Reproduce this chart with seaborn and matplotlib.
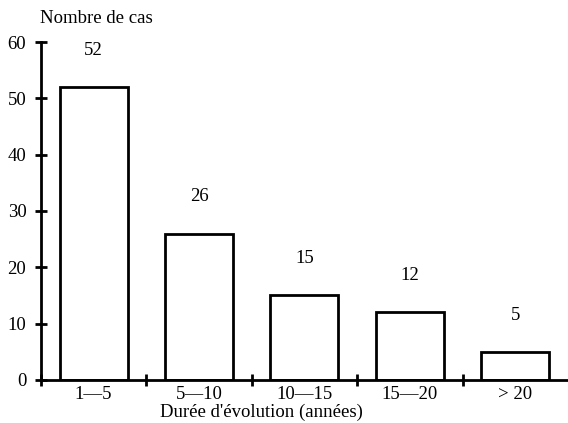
import matplotlib
matplotlib.use("Agg")
import matplotlib.pyplot as plt
import seaborn as sns
import pandas as pd

categories = ["1\u20145", "5\u201410", "10\u201415", "15\u201420", "> 20"]
counts = [52, 26, 15, 12, 5]

sns.set_style("white")
plt.rcParams['font.family'] = ['Liberation Serif', 'DejaVu Serif']
plt.rcParams['text.color'] = 'black'
plt.rcParams['xtick.color'] = 'black'
plt.rcParams['ytick.color'] = 'black'
plt.rcParams['axes.labelcolor'] = 'black'
plt.rcParams['axes.edgecolor'] = 'black'

FS = 13.5

df = pd.DataFrame({"duree": categories, "cas": counts})

fig = plt.figure(figsize=(5.68, 4.23), dpi=100)
ax = fig.add_axes([0.072, 0.1017, 0.928, 0.799])

sns.barplot(data=df, x="duree", y="cas", order=categories, color="white",
            edgecolor="black", linewidth=2, width=0.645, ax=ax, zorder=3)

# value labels above the bars
for i, v in enumerate(counts):
    ax.text(i, v + 5.0, str(v), ha="center", va="bottom", fontsize=FS)

ax.set_xlim(-0.5, 4.5)
ax.set_ylim(0, 60)
ax.set_yticks(range(0, 61, 10))
ax.set_xticks(range(len(categories)))
ax.set_xticklabels(categories, fontsize=FS)
ax.set_xticks([-0.5, 0.5, 1.5, 2.5, 3.5], minor=True)
ax.tick_params(axis="x", which="major", bottom=True, length=0, pad=4)
ax.tick_params(axis="x", which="minor", bottom=True, length=9, width=2, direction="inout")
ax.tick_params(axis="y", left=True, length=9, width=2, direction="inout", labelsize=FS, pad=6)

for s in ["top", "right"]:
    ax.spines[s].set_visible(False)
for s in ["left", "bottom"]:
    ax.spines[s].set_linewidth(2)
    ax.spines[s].set_zorder(4)

ax.set_xlabel("Dur\u00e9e d'\u00e9volution (ann\u00e9es)", fontsize=FS, va="center")
ax.xaxis.set_label_coords(0.419, -0.096)
ax.set_ylabel("")
fig.text(0.07, 0.957, "Nombre de cas", fontsize=FS, ha="left", va="center")

fig.savefig("out.png", dpi=100)
